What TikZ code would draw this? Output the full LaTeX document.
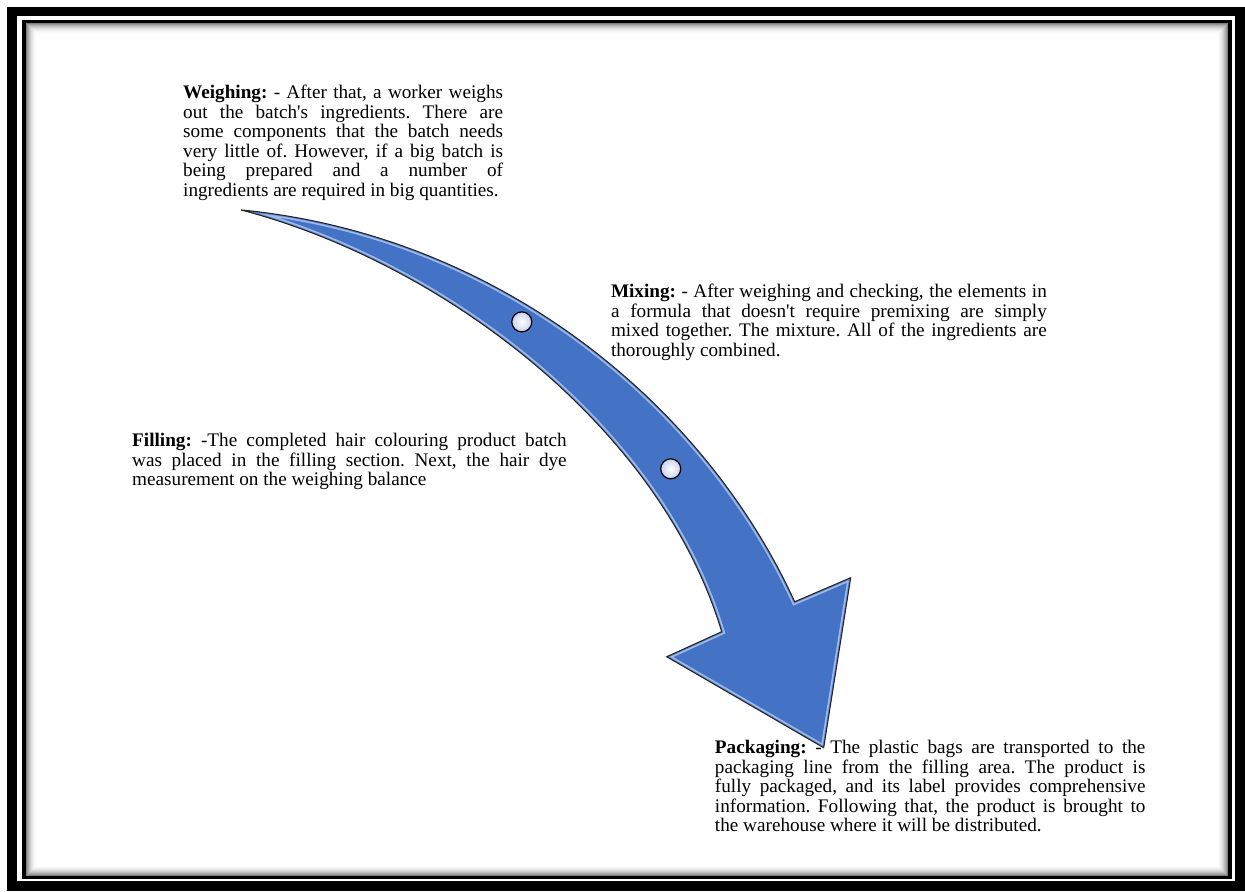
\documentclass[tikz,border=0pt]{standalone}
\usepackage{fontspec}
\setmainfont{Liberation Serif}
\usetikzlibrary{calc}
\definecolor{arrowblue}{HTML}{4472C4}
\definecolor{bevelblue}{HTML}{9DBAEC}
\definecolor{dotfill}{HTML}{C9D1EC}
\frenchspacing
\hyphenpenalty=10000
\exhyphenpenalty=10000

% outline of the bent arrow (tail, shaft and head)
\newcommand\bentarrow{(tail) .. controls (500,235) and (705,405) .. (rnotch)
  -- (rbarb) -- (tip) -- (lbarb) -- (lnotch)
  .. controls (660,425) and (440,262) .. (tail) -- cycle}

\begin{document}
\begin{tikzpicture}[x=0.75pt, y=-0.75pt,
    note/.style={anchor=base west, inner sep=0pt, align=justify,
                 font=\fontsize{14.4}{14.6}\selectfont},
    dot/.style={circle, draw, line width=0.9pt, minimum size=15pt,
                inner sep=0pt, inner color=white, outer color=dotfill}]
  %% Page and frame
  \fill[white] (0,0) rectangle (1245,891);
  \foreach \i/\g in {1/50,2/40,3/32,4/25,5/19,6/14,7/10,8/6,9/3,10/1}
    \draw[black!\g, line width=0.8pt] (25.5+\i,23+\i) rectangle (1229-\i,876.5-\i);
  \draw[line width=7.5pt] (12,11.5) rectangle (1240.5,886.5);
  \draw[line width=2.6pt] (24,21.5) rectangle (1230.5,878);

  %% Steps
  \node[note, text width=240pt] (weigh) at (183,99)
    {\textbf{Weighing:} - After that, a worker weighs\linebreak
     out the batch\textquotesingle s ingredients. There are\linebreak
     some components that the batch needs\linebreak
     very little of. However, if a big batch is\linebreak
     being prepared and a number of\linebreak
     ingredients are required in big quantities.};
  \node[note, text width=327pt] (mix) at (611,298)
    {\textbf{Mixing:} - After weighing and checking, the elements in\linebreak
     a formula that doesn\textquotesingle t require premixing are simply\linebreak
     mixed together. The mixture. All of the ingredients are\linebreak
     thoroughly combined.};
  \node[note, text width=326pt] (fill) at (132,447)
    {\textbf{Filling:} -The completed hair colouring product batch\linebreak
     was placed in the filling section. Next, the hair dye\linebreak
     measurement on the weighing balance};
  \node[note, text width=323pt] (pack) at (715,754)
    {\textbf{Packaging:} - The plastic bags are transported to the\linebreak
     packaging line from the filling area. The product is\linebreak
     fully packaged, and its label provides comprehensive\linebreak
     information. Following that, the product is brought to\linebreak
     the warehouse where it will be distributed.};

  %% Arrow
  \coordinate (tail)   at (241,210);
  \coordinate (rnotch) at (795,602);
  \coordinate (rbarb)  at (851,578);
  \coordinate (tip)    at (824,748);
  \coordinate (lbarb)  at (667,657);
  \coordinate (lnotch) at (722,632);
  \fill[arrowblue] \bentarrow;
  \begin{scope}
    \clip \bentarrow;
    \draw[bevelblue, line width=4.5pt, line join=miter] \bentarrow;
    \draw[arrowblue!85!white, line width=2pt] \bentarrow;
  \end{scope}
  \draw[black!85, line width=0.8pt, line join=miter] \bentarrow;

  %% Markers on the shaft
  \node[dot] (d1) at (522,322) {};
  \node[dot] (d2) at (671,469) {};
\end{tikzpicture}
\end{document}
